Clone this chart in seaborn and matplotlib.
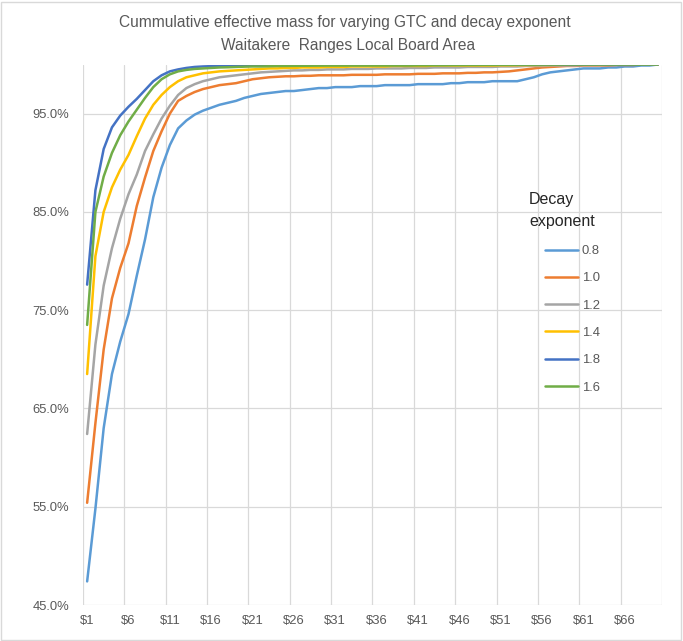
import numpy as np
import pandas as pd
import matplotlib
matplotlib.use("Agg")
import matplotlib.pyplot as plt
import seaborn as sns
from matplotlib.patches import Rectangle

# ---------------- data ----------------
gtc_labels = [f"${i}" for i in range(1, 71)]
series_names = ["0.8", "1.0", "1.2", "1.4", "1.8", "1.6"]

exp_08 = [47.4, 54.8, 63.0, 68.5, 71.8, 74.6, 78.5, 82.2, 86.5, 89.5,
          91.8, 93.5, 94.3, 94.9, 95.3, 95.6, 95.9, 96.1, 96.3, 96.6,
          96.8, 97.0, 97.1, 97.2, 97.3, 97.3, 97.4, 97.5, 97.6, 97.6,
          97.7, 97.7, 97.7, 97.8, 97.8, 97.8, 97.9, 97.9, 97.9, 97.9,
          98.0, 98.0, 98.0, 98.0, 98.1, 98.1, 98.2, 98.2, 98.2, 98.3,
          98.3, 98.3, 98.3, 98.5, 98.7, 99.0, 99.2, 99.3, 99.4, 99.5,
          99.6, 99.6, 99.6, 99.7, 99.7, 99.8, 99.8, 99.9, 99.9, 100.0]
exp_10 = [55.4, 63.5, 71.0, 76.2, 79.3, 81.8, 85.6, 88.5, 91.2, 93.2,
          95.0, 96.3, 96.8, 97.2, 97.5, 97.7, 97.9, 98.0, 98.1, 98.3,
          98.5, 98.6, 98.7, 98.75, 98.8, 98.8, 98.85, 98.85, 98.9, 98.9,
          98.9, 98.9, 98.95, 98.95, 98.95, 98.95, 99.0, 99.0, 99.0, 99.0,
          99.05, 99.05, 99.05, 99.1, 99.1, 99.1, 99.15, 99.15, 99.2, 99.2,
          99.25, 99.3, 99.4, 99.5, 99.6, 99.7, 99.75, 99.8, 99.85, 99.85,
          99.9, 99.9, 99.9, 99.9, 99.95, 99.95, 99.95, 100.0, 100.0, 100.0]
exp_12 = [62.4, 71.5, 77.5, 81.3, 84.3, 86.8, 88.8, 91.2, 92.9, 94.5,
          95.8, 96.9, 97.6, 98.0, 98.3, 98.5, 98.7, 98.8, 98.9, 99.0,
          99.1, 99.2, 99.25, 99.3, 99.35, 99.4, 99.4, 99.45, 99.45, 99.5,
          99.5, 99.5, 99.55, 99.55, 99.55, 99.6, 99.6, 99.6, 99.6, 99.65,
          99.65, 99.65, 99.7, 99.7, 99.7, 99.7, 99.75, 99.75, 99.75, 99.75,
          99.8, 99.8, 99.8, 99.85, 99.85, 99.85, 99.9, 99.9, 99.9, 99.9,
          99.95, 99.95, 99.95, 99.95, 99.95, 100.0, 100.0, 100.0, 100.0, 100.0]
exp_14 = [68.5, 80.5, 85.0, 87.5, 89.3, 90.8, 92.7, 94.5, 95.9, 96.9,
          97.7, 98.3, 98.7, 98.9, 99.1, 99.2, 99.3, 99.35, 99.4, 99.45,
          99.5, 99.55, 99.6, 99.6, 99.65, 99.65, 99.7, 99.7, 99.7, 99.75,
          99.75, 99.75, 99.8, 99.8, 99.8, 99.8, 99.8, 99.85, 99.85, 99.85,
          99.85, 99.85, 99.9, 99.9, 99.9, 99.9, 99.9, 99.9, 99.9, 99.9,
          99.92, 99.92, 99.93, 99.94, 99.95, 99.95, 99.96, 99.97, 99.98, 99.98,
          99.99, 99.99, 100.0, 100.0, 100.0, 100.0, 100.0, 100.0, 100.0, 100.0]
exp_18 = [77.6, 87.2, 91.4, 93.6, 94.8, 95.7, 96.5, 97.4, 98.3, 98.9,
          99.3, 99.5, 99.65, 99.75, 99.8, 99.83, 99.86, 99.88, 99.9, 99.9,
          99.92, 99.92, 99.93, 99.93, 99.94, 99.94, 99.95, 99.95, 99.95, 99.96,
          99.96, 99.96, 99.96, 99.96, 99.96, 99.97, 99.97, 99.97, 99.97, 99.97,
          99.97, 99.97, 99.97, 99.97, 99.97, 99.98, 99.98, 99.98, 99.98, 99.98,
          99.98, 99.98, 99.98, 99.98, 99.98, 99.99, 99.99, 99.99, 99.99, 99.99,
          100.0, 100.0, 100.0, 100.0, 100.0, 100.0, 100.0, 100.0, 100.0, 100.0]
exp_16 = [73.5, 85.0, 88.6, 91.0, 92.8, 94.2, 95.4, 96.6, 97.7, 98.5,
          99.0, 99.3, 99.45, 99.55, 99.6, 99.65, 99.7, 99.72, 99.75, 99.78,
          99.8, 99.8, 99.82, 99.84, 99.85, 99.86, 99.87, 99.88, 99.89, 99.9,
          99.9, 99.9, 99.9, 99.9, 99.9, 99.9, 99.9, 99.9, 99.9, 99.9,
          99.92, 99.92, 99.93, 99.93, 99.94, 99.94, 99.95, 99.95, 99.96, 99.96,
          99.97, 99.97, 99.98, 99.98, 99.98, 99.99, 99.99, 99.99, 100.0, 100.0,
          100.0, 100.0, 100.0, 100.0, 100.0, 100.0, 100.0, 100.0, 100.0, 100.0]

y_ticks = [45, 55, 65, 75, 85, 95]
x_tick_every = 5

colors = ["#5B9BD5", "#ED7D31", "#A5A5A5", "#FFC000", "#4472C4", "#70AD47"]

# ---------------- build table ----------------
all_series = [exp_08, exp_10, exp_12, exp_14, exp_18, exp_16]
frames = []
for name, vals in zip(series_names, all_series):
    frames.append(pd.DataFrame({
        "pos": np.arange(1, len(vals) + 1),
        "value": vals,
        "Decay exponent": name,
    }))
df = pd.concat(frames, ignore_index=True)

# ---------------- plot ----------------
sns.set_style("white")
plt.rcParams["font.family"] = ["Liberation Sans", "DejaVu Sans"]

W, H = 683, 641
fig = plt.figure(figsize=(W / 100, H / 100), dpi=100)
ax = fig.add_axes([83 / W, 1 - 605 / H, (662 - 83) / W, (605 - 64.5) / H])

sns.lineplot(data=df, x="pos", y="value", hue="Decay exponent",
             hue_order=series_names, palette=colors, linewidth=1.8,
             ax=ax, legend=True, sort=False)

n = len(gtc_labels)
ax.set_xlim(0.5, n + 0.5)
ax.set_ylim(45, 100)

grid_c = "#D9D9D9"
ax.set_yticks(y_ticks)
ax.set_yticklabels([f"{v:.1f}%" for v in y_ticks])
for v in y_ticks:
    ax.axhline(v, color=grid_c, lw=0.9, zorder=0)
for b in np.arange(0.5, n + 1, x_tick_every):
    ax.axvline(b, color=grid_c, lw=0.9, zorder=0)

xt = list(range(1, n + 1, x_tick_every))
ax.set_xticks(xt)
ax.set_xticklabels([gtc_labels[i - 1] for i in xt])

for s in ax.spines.values():
    s.set_visible(False)
ax.tick_params(axis="both", length=0, labelsize=9.4, colors="#595959")
ax.tick_params(axis="y", pad=10)
ax.tick_params(axis="x", pad=7.5)
ax.set_xlabel("")
ax.set_ylabel("")

cx = 0.5 * (113 + 577) / W
fig.text(cx, 1 - 22 / H,
         "Cummulative effective mass for varying GTC and decay exponent",
         ha="center", va="center", fontsize=11.2, color="#595959")
fig.text(cx + 0.005, 1 - 45.5 / H,
         "Waitakere  Ranges Local Board Area",
         ha="center", va="center", fontsize=11.2, color="#595959")

# legend
handles, labels = ax.get_legend_handles_labels()
leg = ax.legend(handles, labels, loc="upper left",
                bbox_to_anchor=(545 / W, 1 - 245 / H), bbox_transform=fig.transFigure,
                frameon=False, handlelength=2.55, handletextpad=0.25,
                labelspacing=1.16, borderpad=0, borderaxespad=0,
                fontsize=9.4)
for t in leg.get_texts():
    t.set_color("#595959")
for l in leg.get_lines():
    l.set_linewidth(1.8)
fig.text(529 / W, 1 - 210.5 / H, "Decay\nexponent", ha="left", va="center",
         fontsize=11.5, color="#262626", linespacing=1.55)

fig.patches.append(Rectangle((1 / W, 1 / H), (W - 3) / W, (H - 3) / H,
                             transform=fig.transFigure, fill=False,
                             edgecolor="#D9D9D9", lw=1))

fig.savefig("out.png", dpi=100)
